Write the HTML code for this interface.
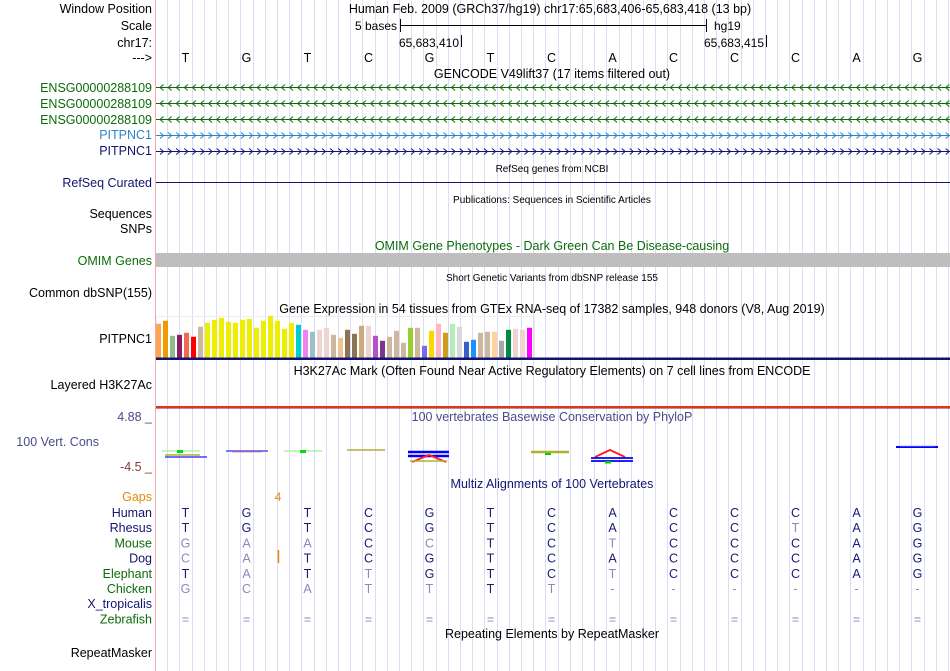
<!DOCTYPE html>
<html><head><meta charset="utf-8"><style>
html,body{margin:0;padding:0;background:#fff;}
svg{display:block;font-family:"Liberation Sans",sans-serif;}
</style></head><body>
<svg id="c" width="950" height="671" viewBox="0 0 950 671">
<g id="grid"></g>
<line x1="155.5" y1="0" x2="155.5" y2="671" stroke="#f4a8a8"/>
<g id="labels" font-size="12.5" text-anchor="end">
<text x="152" y="13" fill="#000">Window Position</text>
<text x="152" y="30" fill="#000">Scale</text>
<text x="152" y="47" fill="#000">chr17:</text>
<text x="152" y="62" fill="#000">---&gt;</text>
<text x="152" y="92" fill="#0c6c0c">ENSG00000288109</text>
<text x="152" y="108" fill="#0c6c0c">ENSG00000288109</text>
<text x="152" y="124" fill="#0c6c0c">ENSG00000288109</text>
<text x="152" y="139" fill="#2e86c8">PITPNC1</text>
<text x="152" y="155" fill="#141470">PITPNC1</text>
<text x="152" y="187" fill="#141470">RefSeq Curated</text>
<text x="152" y="218" fill="#000">Sequences</text>
<text x="152" y="233" fill="#000">SNPs</text>
<text x="152" y="265" fill="#0c6c0c">OMIM Genes</text>
<text x="152" y="297" fill="#000">Common dbSNP(155)</text>
<text x="152" y="343" fill="#000">PITPNC1</text>
<text x="152" y="389" fill="#000">Layered H3K27Ac</text>
<text x="152" y="421" fill="#4b4b8c">4.88 _</text>
<text x="99" y="446" fill="#4b4b8c">100 Vert. Cons</text>
<text x="152" y="471" fill="#8b3a3a">-4.5 _</text>
<text x="152" y="501" fill="#e08a10">Gaps</text>
</g>
<g id="titles" font-size="12.5" text-anchor="middle">
<text x="550" y="13">Human Feb. 2009 (GRCh37/hg19)   chr17:65,683,406-65,683,418 (13 bp)</text>
<text x="552" y="78">GENCODE V49lift37 (17 items filtered out)</text>
<text x="552" y="172" font-size="10">RefSeq genes from NCBI</text>
<text x="552" y="203" font-size="10">Publications: Sequences in Scientific Articles</text>
<text x="552" y="250" fill="#0c6c0c">OMIM Gene Phenotypes - Dark Green Can Be Disease-causing</text>
<text x="552" y="281" font-size="10">Short Genetic Variants from dbSNP release 155</text>
<text x="552" y="313">Gene Expression in 54 tissues from GTEx RNA-seq of 17382 samples, 948 donors (V8, Aug 2019)</text>
<text x="552" y="375">H3K27Ac Mark (Often Found Near Active Regulatory Elements) on 7 cell lines from ENCODE</text>
<text x="552" y="421" fill="#4b4b8c">100 vertebrates Basewise Conservation by PhyloP</text>
<text x="552" y="488" fill="#141470">Multiz Alignments of 100 Vertebrates</text>
<text x="552" y="638">Repeating Elements by RepeatMasker</text>
<text x="278" y="501" fill="#e08a10" font-size="12">4</text>
<text x="152" y="657" text-anchor="end">RepeatMasker</text>
</g>
<g font-size="12">
<text x="397" y="30" text-anchor="end">5 bases</text>
<line x1="400.5" y1="25.5" x2="706" y2="25.5" stroke="#000"/>
<line x1="400.5" y1="19" x2="400.5" y2="32" stroke="#000"/>
<line x1="706.5" y1="19" x2="706.5" y2="32" stroke="#000"/>
<text x="714" y="30">hg19</text>
<text x="459" y="47" text-anchor="end">65,683,410</text>
<line x1="461.5" y1="35" x2="461.5" y2="47" stroke="#000"/>
<text x="764" y="47" text-anchor="end">65,683,415</text>
<line x1="766.5" y1="35" x2="766.5" y2="47" stroke="#000"/>
</g>
<g id="bases" font-size="12.5" text-anchor="middle"></g>
<g id="genes">
<line x1="156" y1="182.5" x2="950" y2="182.5" stroke="#141470"/>
<rect x="156" y="253" width="794" height="14" fill="#bebebe"/>
</g>
<rect x="156.5" y="316.5" width="378" height="42" fill="none" stroke="#eeeeee"/>
<g id="gtex"></g>
<rect x="156" y="357.5" width="794" height="2.5" fill="#141470"/>
<rect x="156" y="406" width="794" height="2" fill="#e0341c"/>
<line x1="156" y1="408.5" x2="950" y2="408.5" stroke="#7a2010" stroke-width="0.6"/>
<g stroke-width="1.5" fill="none">
<line x1="162" y1="451" x2="200" y2="451" stroke="#b0f0b0"/><rect x="177" y="450" width="6" height="3" fill="#00e000" stroke="none"/>
<line x1="165" y1="455" x2="200" y2="455" stroke="#b0b030"/><line x1="165" y1="457" x2="207" y2="457" stroke="#4040ff"/>
<line x1="226" y1="451" x2="268" y2="451" stroke="#5050f0"/><line x1="232" y1="452" x2="262" y2="452" stroke="#e07070" stroke-width="0.8"/>
<line x1="284" y1="451" x2="322" y2="451" stroke="#b0f0b0"/><rect x="300" y="450" width="6" height="3" fill="#00e000" stroke="none"/>
<line x1="347" y1="450" x2="385" y2="450" stroke="#b0b030"/>
<path d="M408 452 L449 452 M408 456 L449 456" stroke="#0000ff" stroke-width="2.5"/>
<path d="M412 462 L429 455 L446 462" stroke="#ff2020" stroke-width="2"/>
<line x1="410" y1="461" x2="447" y2="461" stroke="#b0b030"/>
<line x1="531" y1="452" x2="569" y2="452" stroke="#b0b030" stroke-width="2.5"/><rect x="545" y="453" width="6" height="2" fill="#00d000" stroke="none"/>
<path d="M595 457 L610 450 L625 457" stroke="#ff2020" stroke-width="2"/>
<path d="M591 458 L633 458 M591 461 L633 461" stroke="#0000ff" stroke-width="1.8"/><rect x="605" y="461" width="6" height="2.5" fill="#00d000" stroke="none"/>
<path d="M896 447 L938 447" stroke="#0000ff" stroke-width="2"/><path d="M900 446 L935 446" stroke="#a0a0ff" stroke-width="0.8"/>
</g>
<g id="multiz" font-size="12.5"></g>
<line x1="278.5" y1="550" x2="278.5" y2="563" stroke="#e08a10" stroke-width="1.5"/>
<script>
const NS="http://www.w3.org/2000/svg";
const humanSeq=["T","G","T","C","G","T","C","A","C","C","C","A","G"];
const species=["Human","Rhesus","Mouse","Dog","Elephant","Chicken","X_tropicalis","Zebrafish"];
const speciesColors=["#141470","#141470","#0c6c0c","#141470","#0c6c0c","#0c6c0c","#141470","#0c6c0c"];
const alignRows=[
"T G T C G T C A C C C A G",
"T G T C G T C A C C t A G",
"g a a C c T C t C C C A G",
"c a T C G T C A C C C A G",
"T a T t G T C t C C C A G",
"g c a t t T t - - - - - -",
"",
"= = = = = = = = = = = = ="];
const gtexValues=[33.7,36.7,21.7,22.7,24.7,20.7,30.7,34.7,37.7,39.7,35.7,34.7,37.7,38.7,29.7,36.7,41.7,36.7,28.7,34.7,32.7,27.7,25.7,27.7,29.7,22.7,19.7,27.7,23.7,31.7,31.7,21.7,16.7,20.7,26.7,14.7,29.7,29.7,11.7,26.7,33.7,24.7,33.7,30.7,15.7,17.7,24.7,25.7,25.7,16.7,27.7,28.7,27.7,29.7];
const gtexColors=["#ffa54f","#ee9a00","#8fbc8f","#8b1c62","#ee6a50","#ff0000","#cdb79e","#eeee00","#eeee00","#eeee00","#eeee00","#eeee00","#eeee00","#eeee00","#eeee00","#eeee00","#eeee00","#eeee00","#eeee00","#eeee00","#00cdcd","#ee82ee","#9ac0cd","#eed5d2","#eed5d2","#cdb79e","#eec591","#8b7355","#8b7355","#cdaa7d","#eed5d2","#b452cd","#7a378b","#cdb79e","#cdb79e","#cdb79e","#9acd32","#cdb79e","#7b68ee","#ffd700","#ffb6c1","#cd9b1d","#b4eeb4","#d9d9d9","#3a5fcd","#1e90ff","#cdb79e","#cdb79e","#ffd39b","#a6a6a6","#008b45","#eed5d2","#eed5d2","#ff00ff"];
const geneRows=[{y:87.5,c:"#0c6c0c",dir:-1},{y:103.5,c:"#0c6c0c",dir:-1},{y:119.5,c:"#0c6c0c",dir:-1},{y:135.5,c:"#2e86c8",dir:1},{y:151.5,c:"#141470",dir:1}];
const X0=155,BW=61;
function baseX(i){return X0+BW*(i+0.5);}
function barX(i){return 156+i*7;}
function barH(v){return v;}
const GB=357.5;
const grid=document.getElementById('grid');
for(let k=1;k<=65;k++){const l=document.createElementNS(NS,'line');const x=Math.round(X0+k*BW/5)+0.5;
l.setAttribute('x1',x);l.setAttribute('x2',x);l.setAttribute('y1',0);l.setAttribute('y2',671);l.setAttribute('stroke','#dcdcf4');


grid.appendChild(l);}
const genes=document.getElementById('genes');
geneRows.forEach(g=>{let d="M156 "+g.y+" L950 "+g.y;
for(let x=160;x<948;x+=8.1){const a=x,b=x+3.5*g.dir*-1;
if(g.dir<0){d+=" M"+(x+3.5)+" "+(g.y-3)+" L"+x+" "+g.y+" L"+(x+3.5)+" "+(g.y+3);}
else{d+=" M"+x+" "+(g.y-3)+" L"+(x+3.5)+" "+g.y+" L"+x+" "+(g.y+3);}}
const p=document.createElementNS(NS,'path');p.setAttribute('d',d);p.setAttribute('stroke',g.c);p.setAttribute('fill','none');p.setAttribute('stroke-width','1');


genes.appendChild(p);});
const bases=document.getElementById('bases');
humanSeq.forEach((b,i)=>{const t=document.createElementNS(NS,'text');t.setAttribute('x',baseX(i));t.setAttribute('y',62);t.textContent=b;


bases.appendChild(t);});
const gt=document.getElementById('gtex');
gtexValues.forEach((v,i)=>{const r=document.createElementNS(NS,'rect');const h=barH(v);
r.setAttribute('x',barX(i));r.setAttribute('width',5);r.setAttribute('y',GB-h);r.setAttribute('height',h);r.setAttribute('fill',gtexColors[i]);


gt.appendChild(r);});
const mz=document.getElementById('multiz');
species.forEach((s,r)=>{const y=517+r*15.2;
const t=document.createElementNS(NS,'text');t.setAttribute('x',152);t.setAttribute('y',y);t.setAttribute('text-anchor','end');t.setAttribute('fill',speciesColors[r]);t.textContent=s;


mz.appendChild(t);
const row=alignRows[r].split(' ').filter(c=>c);
row.forEach((c,i)=>{const e=document.createElementNS(NS,'text');const light=(c!==c.toUpperCase())||c==='-'||c==='=';
e.setAttribute('x',baseX(i));e.setAttribute('y',y);e.setAttribute('text-anchor','middle');e.setAttribute('fill',light?'#8a8ab8':'#1a1a78');
e.textContent=c.toUpperCase();


mz.appendChild(e);});
});
</script>
</svg>
</body></html>
